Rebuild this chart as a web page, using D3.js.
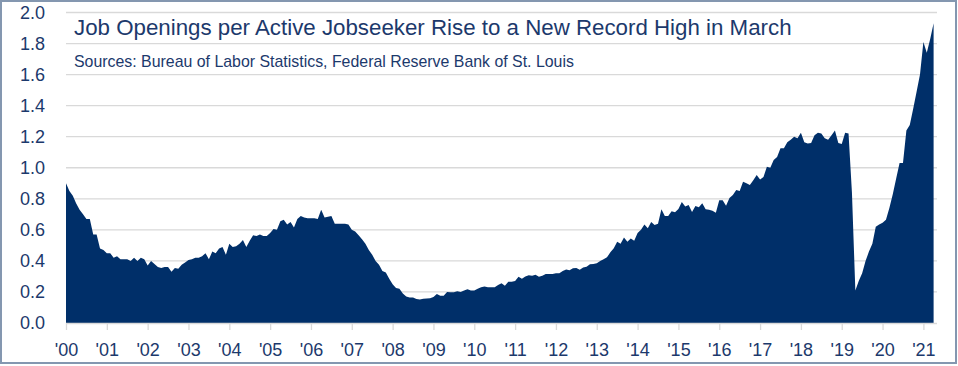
<!DOCTYPE html>
<html lang="en">
<head>
<meta charset="UTF-8">
<title>Job Openings per Active Jobseeker</title>
<script src="https://d3js.org/d3.v7.min.js"></script>
<style>
  body { margin: 0; background: white; }
  svg { display: block; }
  text { font-family: "Liberation Sans", Arial, sans-serif; fill: #1c396c; }
</style>
</head>
<body>
<svg id="chart"></svg>
<script>
// monthly ratio, first point = tick '00, last = March of the final year
const ratio = [
  0.90, 0.85, 0.82, 0.77, 0.73, 0.70, 0.67, 0.67, 0.57, 0.57, 0.48, 0.47,
  0.45, 0.45, 0.42, 0.43, 0.41, 0.41, 0.41, 0.40, 0.42, 0.40, 0.42, 0.41,
  0.37, 0.40, 0.38, 0.36, 0.355, 0.36, 0.36, 0.33, 0.355, 0.35, 0.375, 0.39,
  0.405, 0.41, 0.42, 0.42, 0.43, 0.45, 0.41, 0.46, 0.45, 0.48, 0.49, 0.44,
  0.51, 0.49, 0.495, 0.51, 0.535, 0.49, 0.53, 0.565, 0.56, 0.57, 0.56, 0.56,
  0.58, 0.605, 0.60, 0.655, 0.665, 0.635, 0.65, 0.615, 0.67, 0.69, 0.68, 0.675,
  0.675, 0.675, 0.67, 0.73, 0.68, 0.685, 0.69, 0.64, 0.64, 0.64, 0.64, 0.635,
  0.60, 0.59, 0.565, 0.54, 0.51, 0.47, 0.44, 0.40, 0.375, 0.335, 0.325, 0.285,
  0.25, 0.225, 0.22, 0.19, 0.17, 0.165, 0.165, 0.155, 0.152, 0.157, 0.158, 0.16,
  0.168, 0.187, 0.175, 0.175, 0.20, 0.198, 0.198, 0.204, 0.20, 0.21, 0.217, 0.21,
  0.21, 0.22, 0.23, 0.235, 0.23, 0.23, 0.23, 0.245, 0.256, 0.24, 0.266, 0.266,
  0.27, 0.298, 0.285, 0.30, 0.307, 0.305, 0.31, 0.298, 0.305, 0.315, 0.315, 0.315,
  0.32, 0.32, 0.335, 0.345, 0.34, 0.352, 0.354, 0.343, 0.358, 0.363, 0.378, 0.38,
  0.385, 0.40, 0.41, 0.423, 0.455, 0.481, 0.524, 0.51, 0.55, 0.524, 0.545, 0.53,
  0.58, 0.60, 0.635, 0.61, 0.65, 0.632, 0.64, 0.732, 0.689, 0.69, 0.72, 0.713,
  0.735, 0.78, 0.75, 0.76, 0.715, 0.754, 0.745, 0.771, 0.732, 0.73, 0.723, 0.71,
  0.79, 0.79, 0.755, 0.805, 0.825, 0.857, 0.85, 0.91, 0.90, 0.889, 0.92, 0.953,
  0.925, 0.94, 1.007, 1.0, 1.05, 1.07, 1.125, 1.125, 1.165, 1.18, 1.20, 1.19,
  1.225, 1.165, 1.157, 1.16, 1.21, 1.226, 1.22, 1.19, 1.18, 1.21, 1.24, 1.16,
  1.153, 1.225, 1.22, 0.84, 0.21, 0.27, 0.32, 0.40, 0.46, 0.51, 0.62, 0.635,
  0.645, 0.665, 0.74, 0.83, 0.93, 1.03, 1.03, 1.24, 1.275, 1.38, 1.49, 1.60,
  1.81, 1.74, 1.83, 1.93
];
const yearLabels = ["'00","'01","'02","'03","'04","'05","'06","'07","'08","'09","'10",
  "'11","'12","'13","'14","'15","'16","'17","'18","'19","'20","'21"];
const yTicks = [0, 0.2, 0.4, 0.6, 0.8, 1.0, 1.2, 1.4, 1.6, 1.8, 2.0];
const title = "Job Openings per Active Jobseeker Rise to a New Record High in March";
const source = "Sources: Bureau of Labor Statistics, Federal Reserve Bank of St. Louis";

const width = 958, height = 366;
const svg = d3.select("#chart").attr("width", width).attr("height", height);

svg.append("rect")
  .attr("x", 1).attr("y", 1).attr("width", width - 3).attr("height", height - 4)
  .attr("fill", "white").attr("stroke", "#8497b0").attr("stroke-width", 2);

const x = d3.scaleLinear().domain([0, 256]).range([66, 937]);
const y = d3.scaleLinear().domain([0, 2]).range([323, 12.5]);

// gridlines
svg.append("g").selectAll("line").data(yTicks.slice(1)).join("line")
  .attr("x1", x(0)).attr("x2", x(256))
  .attr("y1", d => y(d)).attr("y2", d => y(d))
  .attr("stroke", "#d9d9d9").attr("stroke-width", 1.3);

// y labels
svg.append("g").selectAll("text").data(yTicks).join("text")
  .attr("x", 45).attr("y", d => y(d)).attr("dy", "0.36em")
  .attr("text-anchor", "end").attr("font-size", 18)
  .text(d => d.toFixed(1));

// area
const area = d3.area()
  .x((d, i) => x(i))
  .y0(y(0))
  .y1(d => y(d));
svg.append("path").datum(ratio).attr("d", area).attr("fill", "#002f69");

// x axis
const xAxis = d3.axisBottom(x)
  .tickValues(yearLabels.map((d, i) => i * 12))
  .tickFormat((d, i) => yearLabels[i])
  .tickSize(7).tickPadding(13);
const gx = svg.append("g").attr("transform", `translate(0,${y(0)})`).call(xAxis);
gx.select(".domain").attr("stroke", "#d9d9d9").attr("stroke-width", 1.3)
  .attr("d", `M${x(0)},0.5H${x(256)}`);
gx.selectAll(".tick line").attr("stroke", "#d9d9d9").attr("stroke-width", 1.3);
gx.selectAll(".tick text").attr("font-size", 18)
  .style("font-family", '"Liberation Sans", Arial, sans-serif').attr("fill", "#1c396c");

// titles
svg.append("text").attr("x", 74).attr("y", 35).attr("font-size", 22.3).text(title);
svg.append("text").attr("x", 74).attr("y", 67).attr("font-size", 15.9).text(source);
</script>
</body>
</html>
